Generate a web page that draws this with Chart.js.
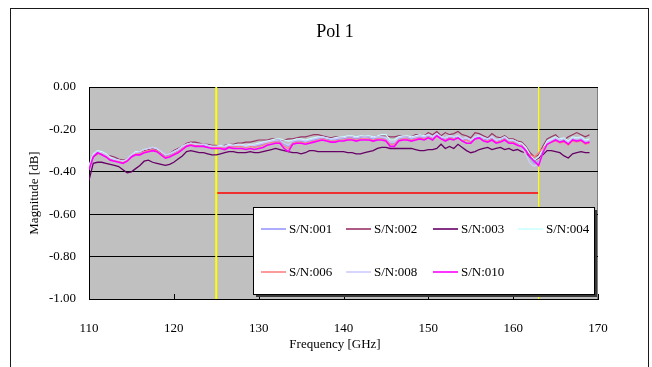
<!DOCTYPE html>
<html><head><meta charset="utf-8">
<script src="https://cdn.jsdelivr.net/npm/chart.js@4.4.1/dist/chart.umd.min.js"></script>
<style>html,body{margin:0;padding:0;background:#fff;}canvas{display:block;}</style>
</head><body>
<canvas id="c" width="652" height="367"></canvas>
<script>
const chartTitle = 'Pol 1';
const xAxisTitle = 'Frequency [GHz]';
const yAxisTitle = 'Magnitude [dB]';
const xTickValues = [110, 120, 130, 140, 150, 160, 170];
const yTickValues = [0, -0.2, -0.4, -0.6, -0.8, -1.0];
const bandEdgesGHz = [125, 163];
const limitLevelDb = -0.5;
const seriesNames = ['S/N:001','S/N:002','S/N:003','S/N:004','S/N:006','S/N:008','S/N:010'];

const freqGHz = [
110,110.5,111,111.5,112,112.5,113,113.5,114,114.5,
115,115.5,116,116.5,117,117.5,118,118.5,119,119.5,
120,120.5,121,121.5,122,122.5,123,123.5,124,124.5,
125,125.5,126,126.5,127,127.5,128,128.5,129,129.5,
130,130.5,131,131.5,132,132.5,133,133.5,134,134.5,
135,135.5,136,136.5,137,137.5,138,138.5,139,139.5,
140,140.5,141,141.5,142,142.5,143,143.5,144,144.5,
145,145.5,146,146.5,147,147.5,148,148.5,149,149.5,
150,150.5,151,151.5,152,152.5,153,153.5,154,154.5,
155,155.5,156,156.5,157,157.5,158,158.5,159,159.5,
160,160.5,161,161.5,162,162.5,163,163.5,164,164.5,
165,165.5,166,166.5,167,167.5,168,168.5,169];

const sn001 = [
-0.38,-0.32,-0.305,-0.31,-0.32,-0.335,-0.345,-0.35,-0.355,-0.345,
-0.325,-0.31,-0.31,-0.30,-0.295,-0.29,-0.295,-0.31,-0.325,-0.32,
-0.31,-0.30,-0.285,-0.275,-0.27,-0.275,-0.275,-0.275,-0.28,-0.285,
-0.285,-0.28,-0.285,-0.275,-0.28,-0.28,-0.28,-0.285,-0.275,-0.28,
-0.275,-0.27,-0.265,-0.26,-0.255,-0.255,-0.27,-0.28,-0.26,-0.255,
-0.255,-0.26,-0.255,-0.25,-0.245,-0.24,-0.245,-0.25,-0.25,-0.245,
-0.245,-0.24,-0.24,-0.245,-0.24,-0.24,-0.24,-0.245,-0.24,-0.24,
-0.245,-0.265,-0.265,-0.245,-0.24,-0.24,-0.245,-0.24,-0.235,-0.24,
-0.23,-0.24,-0.225,-0.24,-0.245,-0.235,-0.24,-0.235,-0.25,-0.245,
-0.255,-0.24,-0.235,-0.245,-0.25,-0.24,-0.255,-0.25,-0.24,-0.255,
-0.255,-0.265,-0.275,-0.30,-0.335,-0.36,-0.35,-0.30,-0.26,-0.25,
-0.24,-0.25,-0.245,-0.26,-0.24,-0.245,-0.24,-0.255,-0.25];

const sn002 = [
-0.38,-0.33,-0.315,-0.31,-0.32,-0.325,-0.33,-0.34,-0.345,-0.34,
-0.325,-0.31,-0.305,-0.30,-0.295,-0.29,-0.30,-0.31,-0.32,-0.315,
-0.30,-0.29,-0.28,-0.265,-0.26,-0.26,-0.265,-0.27,-0.27,-0.275,
-0.275,-0.28,-0.275,-0.27,-0.27,-0.265,-0.265,-0.26,-0.26,-0.255,
-0.25,-0.25,-0.25,-0.245,-0.245,-0.25,-0.25,-0.245,-0.245,-0.24,
-0.235,-0.235,-0.23,-0.225,-0.225,-0.23,-0.235,-0.24,-0.235,-0.235,
-0.24,-0.235,-0.235,-0.24,-0.235,-0.23,-0.235,-0.235,-0.23,-0.23,
-0.23,-0.235,-0.235,-0.23,-0.23,-0.235,-0.235,-0.225,-0.225,-0.23,
-0.215,-0.225,-0.21,-0.23,-0.215,-0.225,-0.22,-0.21,-0.225,-0.23,
-0.24,-0.215,-0.22,-0.23,-0.24,-0.22,-0.235,-0.24,-0.23,-0.245,
-0.245,-0.255,-0.26,-0.28,-0.31,-0.33,-0.32,-0.28,-0.245,-0.235,
-0.225,-0.245,-0.25,-0.235,-0.225,-0.215,-0.225,-0.235,-0.225];

const sn003 = [
-0.44,-0.36,-0.355,-0.355,-0.36,-0.365,-0.37,-0.375,-0.39,-0.405,
-0.40,-0.385,-0.37,-0.35,-0.345,-0.355,-0.36,-0.365,-0.37,-0.365,
-0.355,-0.34,-0.325,-0.305,-0.30,-0.305,-0.31,-0.31,-0.315,-0.32,
-0.32,-0.315,-0.31,-0.305,-0.305,-0.31,-0.31,-0.31,-0.305,-0.31,
-0.31,-0.305,-0.30,-0.295,-0.29,-0.295,-0.30,-0.305,-0.31,-0.31,
-0.315,-0.31,-0.30,-0.30,-0.305,-0.305,-0.305,-0.305,-0.305,-0.305,
-0.305,-0.31,-0.31,-0.315,-0.315,-0.31,-0.305,-0.30,-0.29,-0.285,
-0.285,-0.29,-0.29,-0.29,-0.29,-0.29,-0.29,-0.295,-0.30,-0.30,
-0.295,-0.295,-0.29,-0.27,-0.29,-0.28,-0.29,-0.27,-0.285,-0.30,
-0.31,-0.305,-0.295,-0.29,-0.285,-0.295,-0.29,-0.285,-0.295,-0.29,
-0.30,-0.295,-0.305,-0.31,-0.33,-0.345,-0.335,-0.32,-0.30,-0.30,
-0.305,-0.31,-0.325,-0.335,-0.315,-0.31,-0.305,-0.31,-0.31];

const sn004 = [
-0.37,-0.315,-0.30,-0.305,-0.315,-0.33,-0.34,-0.345,-0.35,-0.34,
-0.32,-0.305,-0.305,-0.295,-0.29,-0.285,-0.29,-0.305,-0.32,-0.315,
-0.305,-0.295,-0.28,-0.27,-0.265,-0.27,-0.27,-0.27,-0.275,-0.28,
-0.28,-0.275,-0.28,-0.27,-0.275,-0.27,-0.27,-0.275,-0.27,-0.27,
-0.265,-0.26,-0.255,-0.25,-0.245,-0.245,-0.25,-0.255,-0.25,-0.245,
-0.245,-0.25,-0.245,-0.24,-0.235,-0.235,-0.24,-0.245,-0.24,-0.235,
-0.235,-0.23,-0.23,-0.235,-0.23,-0.23,-0.23,-0.235,-0.23,-0.225,
-0.225,-0.25,-0.25,-0.235,-0.23,-0.23,-0.235,-0.23,-0.225,-0.23,
-0.225,-0.235,-0.22,-0.235,-0.24,-0.23,-0.235,-0.23,-0.245,-0.24,
-0.25,-0.235,-0.23,-0.24,-0.245,-0.235,-0.25,-0.245,-0.235,-0.25,
-0.25,-0.26,-0.265,-0.285,-0.32,-0.345,-0.33,-0.29,-0.255,-0.245,
-0.235,-0.245,-0.24,-0.255,-0.235,-0.24,-0.235,-0.25,-0.245];

const sn006 = [
-0.385,-0.325,-0.31,-0.315,-0.325,-0.34,-0.35,-0.35,-0.355,-0.345,
-0.33,-0.315,-0.315,-0.305,-0.30,-0.295,-0.30,-0.315,-0.33,-0.325,
-0.315,-0.305,-0.29,-0.275,-0.27,-0.275,-0.275,-0.28,-0.285,-0.285,
-0.285,-0.285,-0.29,-0.28,-0.285,-0.28,-0.28,-0.285,-0.28,-0.285,
-0.28,-0.275,-0.265,-0.26,-0.26,-0.26,-0.28,-0.29,-0.265,-0.26,
-0.26,-0.265,-0.26,-0.255,-0.25,-0.245,-0.25,-0.255,-0.255,-0.25,
-0.25,-0.245,-0.245,-0.25,-0.245,-0.245,-0.245,-0.25,-0.245,-0.245,
-0.25,-0.27,-0.27,-0.25,-0.245,-0.245,-0.25,-0.245,-0.24,-0.245,
-0.235,-0.245,-0.23,-0.245,-0.25,-0.24,-0.245,-0.24,-0.255,-0.25,
-0.26,-0.245,-0.24,-0.25,-0.255,-0.245,-0.26,-0.255,-0.245,-0.26,
-0.26,-0.27,-0.275,-0.31,-0.32,-0.33,-0.31,-0.29,-0.27,-0.26,
-0.255,-0.265,-0.26,-0.275,-0.255,-0.26,-0.255,-0.27,-0.265];

const sn008 = [
-0.375,-0.32,-0.305,-0.31,-0.32,-0.335,-0.34,-0.345,-0.35,-0.34,
-0.32,-0.31,-0.305,-0.295,-0.29,-0.285,-0.29,-0.305,-0.32,-0.315,
-0.305,-0.295,-0.28,-0.27,-0.265,-0.27,-0.27,-0.27,-0.275,-0.28,
-0.28,-0.28,-0.28,-0.275,-0.275,-0.275,-0.275,-0.28,-0.275,-0.275,
-0.27,-0.265,-0.26,-0.255,-0.25,-0.25,-0.265,-0.275,-0.255,-0.25,
-0.25,-0.255,-0.25,-0.245,-0.24,-0.235,-0.24,-0.245,-0.245,-0.24,
-0.24,-0.235,-0.235,-0.24,-0.235,-0.235,-0.235,-0.24,-0.235,-0.235,
-0.24,-0.26,-0.26,-0.24,-0.235,-0.235,-0.24,-0.235,-0.23,-0.235,
-0.225,-0.235,-0.22,-0.235,-0.24,-0.23,-0.235,-0.23,-0.245,-0.24,
-0.25,-0.235,-0.23,-0.24,-0.245,-0.235,-0.25,-0.245,-0.235,-0.25,
-0.25,-0.26,-0.28,-0.32,-0.36,-0.375,-0.36,-0.31,-0.265,-0.25,
-0.24,-0.25,-0.245,-0.26,-0.24,-0.245,-0.24,-0.255,-0.25];

const sn010 = [
-0.39,-0.33,-0.31,-0.32,-0.33,-0.345,-0.35,-0.355,-0.36,-0.35,
-0.33,-0.32,-0.32,-0.31,-0.305,-0.30,-0.305,-0.32,-0.335,-0.33,
-0.32,-0.31,-0.295,-0.28,-0.275,-0.28,-0.28,-0.28,-0.285,-0.29,
-0.29,-0.29,-0.295,-0.285,-0.29,-0.29,-0.29,-0.295,-0.29,-0.295,
-0.29,-0.285,-0.275,-0.27,-0.265,-0.265,-0.29,-0.305,-0.27,-0.265,
-0.265,-0.27,-0.265,-0.26,-0.255,-0.25,-0.255,-0.26,-0.26,-0.255,
-0.255,-0.25,-0.25,-0.255,-0.25,-0.25,-0.25,-0.255,-0.25,-0.25,
-0.255,-0.28,-0.28,-0.255,-0.25,-0.25,-0.255,-0.25,-0.245,-0.25,
-0.24,-0.25,-0.23,-0.245,-0.255,-0.245,-0.25,-0.24,-0.255,-0.265,
-0.265,-0.245,-0.24,-0.255,-0.26,-0.25,-0.265,-0.26,-0.25,-0.265,
-0.265,-0.275,-0.28,-0.30,-0.33,-0.35,-0.37,-0.31,-0.27,-0.26,
-0.25,-0.26,-0.255,-0.27,-0.25,-0.255,-0.25,-0.265,-0.26];

const seriesValues = [sn001, sn002, sn003, sn004, sn006, sn008, sn010];
const seriesColors = ['#9999FF','#993366','#660066','#CCFFFF','#FF8080','#CCCCFF','#FF00FF'];
const seriesWidths = [1.2, 1.2, 1.3, 1.2, 1.2, 1.2, 1.6];

const FONT = "'Liberation Serif', 'Times New Roman', serif";

const datasets = [];
seriesValues.forEach((vals, i) => {
  datasets.push({
    label: seriesNames[i],
    data: freqGHz.map((f, k) => ({x: f, y: vals[k]})),
    borderColor: seriesColors[i],
    borderWidth: seriesWidths[i],
    pointRadius: 0,
    tension: 0,
    fill: false,
    order: 10 - i
  });
});
bandEdgesGHz.forEach((f, j) => {
  datasets.push({
    label: '_band',
    data: [{x: f, y: 0}, {x: f, y: -1}],
    borderColor: '#FFFF00',
    borderWidth: j === 0 ? 2 : 1,
    pointRadius: 0,
    order: 50
  });
});
datasets.push({
  label: '_limit',
  data: [{x: bandEdgesGHz[0], y: limitLevelDb}, {x: bandEdgesGHz[1], y: limitLevelDb}],
  borderColor: '#FF0000',
  borderWidth: 1.5,
  pointRadius: 0,
  order: 50
});

const decor = {
  id: 'decor',
  beforeDraw(chart) {
    const ctx = chart.ctx, a = chart.chartArea;
    ctx.save();
    ctx.fillStyle = '#fff';
    ctx.fillRect(0, 0, chart.width, chart.height);
    ctx.strokeStyle = '#1a1a1a';
    ctx.lineWidth = 1;
    ctx.strokeRect(10.5, 8.5, 638, 380);
    ctx.fillStyle = '#C0C0C0';
    ctx.fillRect(a.left, a.top, a.right - a.left, a.bottom - a.top);
    ctx.strokeStyle = '#808080';
    ctx.beginPath();
    ctx.moveTo(a.left, a.top + 0.5); ctx.lineTo(a.right - 0.5, a.top + 0.5);
    ctx.lineTo(a.right - 0.5, a.bottom);
    ctx.stroke();
    ctx.fillStyle = '#000';
    ctx.textAlign = 'center';
    ctx.textBaseline = 'middle';
    ctx.font = '18px ' + FONT;
    ctx.fillText(chartTitle, 335, 32);
    ctx.font = '13px ' + FONT;
    ctx.fillText(xAxisTitle, 335, 345);
    ctx.translate(35, (a.top + a.bottom) / 2);
    ctx.rotate(-Math.PI / 2);
    ctx.fillText(yAxisTitle, 0, 0);
    ctx.restore();
  },
  afterDatasetsDraw(chart) {
    const ctx = chart.ctx, a = chart.chartArea, xs = chart.scales.x;
    ctx.save();
    ctx.strokeStyle = '#000';
    ctx.lineWidth = 1;
    ctx.beginPath();
    xTickValues.forEach(v => {
      const px = Math.round(xs.getPixelForValue(v)) + 0.5;
      ctx.moveTo(px, a.bottom); ctx.lineTo(px, a.bottom - 5);
    });
    ctx.stroke();
    ctx.restore();
  },
  afterDraw(chart) {
    const ctx = chart.ctx;
    const bx = 253, by = 207, bw = 341, bh = 87;
    ctx.save();
    ctx.fillStyle = '#3a3a3a';
    ctx.fillRect(bx + 3, by + 3, bw, bh);
    ctx.fillStyle = '#fff';
    ctx.fillRect(bx, by, bw, bh);
    ctx.strokeStyle = '#000';
    ctx.lineWidth = 1;
    ctx.strokeRect(bx + 0.5, by + 0.5, bw, bh);
    const colX = [261, 346, 433, 518];
    const rowY = [229, 272];
    ctx.font = '13px ' + FONT;
    ctx.textAlign = 'left';
    ctx.textBaseline = 'middle';
    seriesNames.forEach((name, i) => {
      const cx = colX[i % 4], cy = rowY[Math.floor(i / 4)];
      ctx.strokeStyle = seriesColors[i];
      ctx.lineWidth = 1.6;
      ctx.beginPath();
      ctx.moveTo(cx, cy); ctx.lineTo(cx + 25, cy);
      ctx.stroke();
      ctx.fillStyle = '#000';
      ctx.fillText(name, cx + 28, cy + 1);
    });
    ctx.restore();
  }
};

new Chart(document.getElementById('c'), {
  type: 'line',
  data: { datasets },
  options: {
    responsive: false,
    animation: false,
    layout: { padding: { left: 0, top: 87, right: 54, bottom: 0 } },
    plugins: { legend: { display: false }, tooltip: { enabled: false }, title: { display: false } },
    scales: {
      x: {
        type: 'linear', min: 110, max: 170,
        afterFit(s) { s.height = 68; },
        afterBuildTicks(s) { s.ticks = xTickValues.map(v => ({ value: v })); },
        grid: { display: false },
        border: { display: true, color: '#000', width: 1 },
        ticks: { padding: 14, color: '#000', font: { family: FONT, size: 13 }, maxRotation: 0, callback: v => String(v) }
      },
      y: {
        type: 'linear', min: -1, max: 0,
        afterFit(s) { s.width = 89; },
        afterBuildTicks(s) { s.ticks = yTickValues.map(v => ({ value: v })); },
        grid: { color: '#000', lineWidth: 1, drawTicks: false },
        border: { display: true, color: '#000', width: 1 },
        ticks: { padding: 13, color: '#000', font: { family: FONT, size: 13 }, callback: v => Number(v).toFixed(2) }
      }
    }
  },
  plugins: [decor]
});
</script>
</body></html>
